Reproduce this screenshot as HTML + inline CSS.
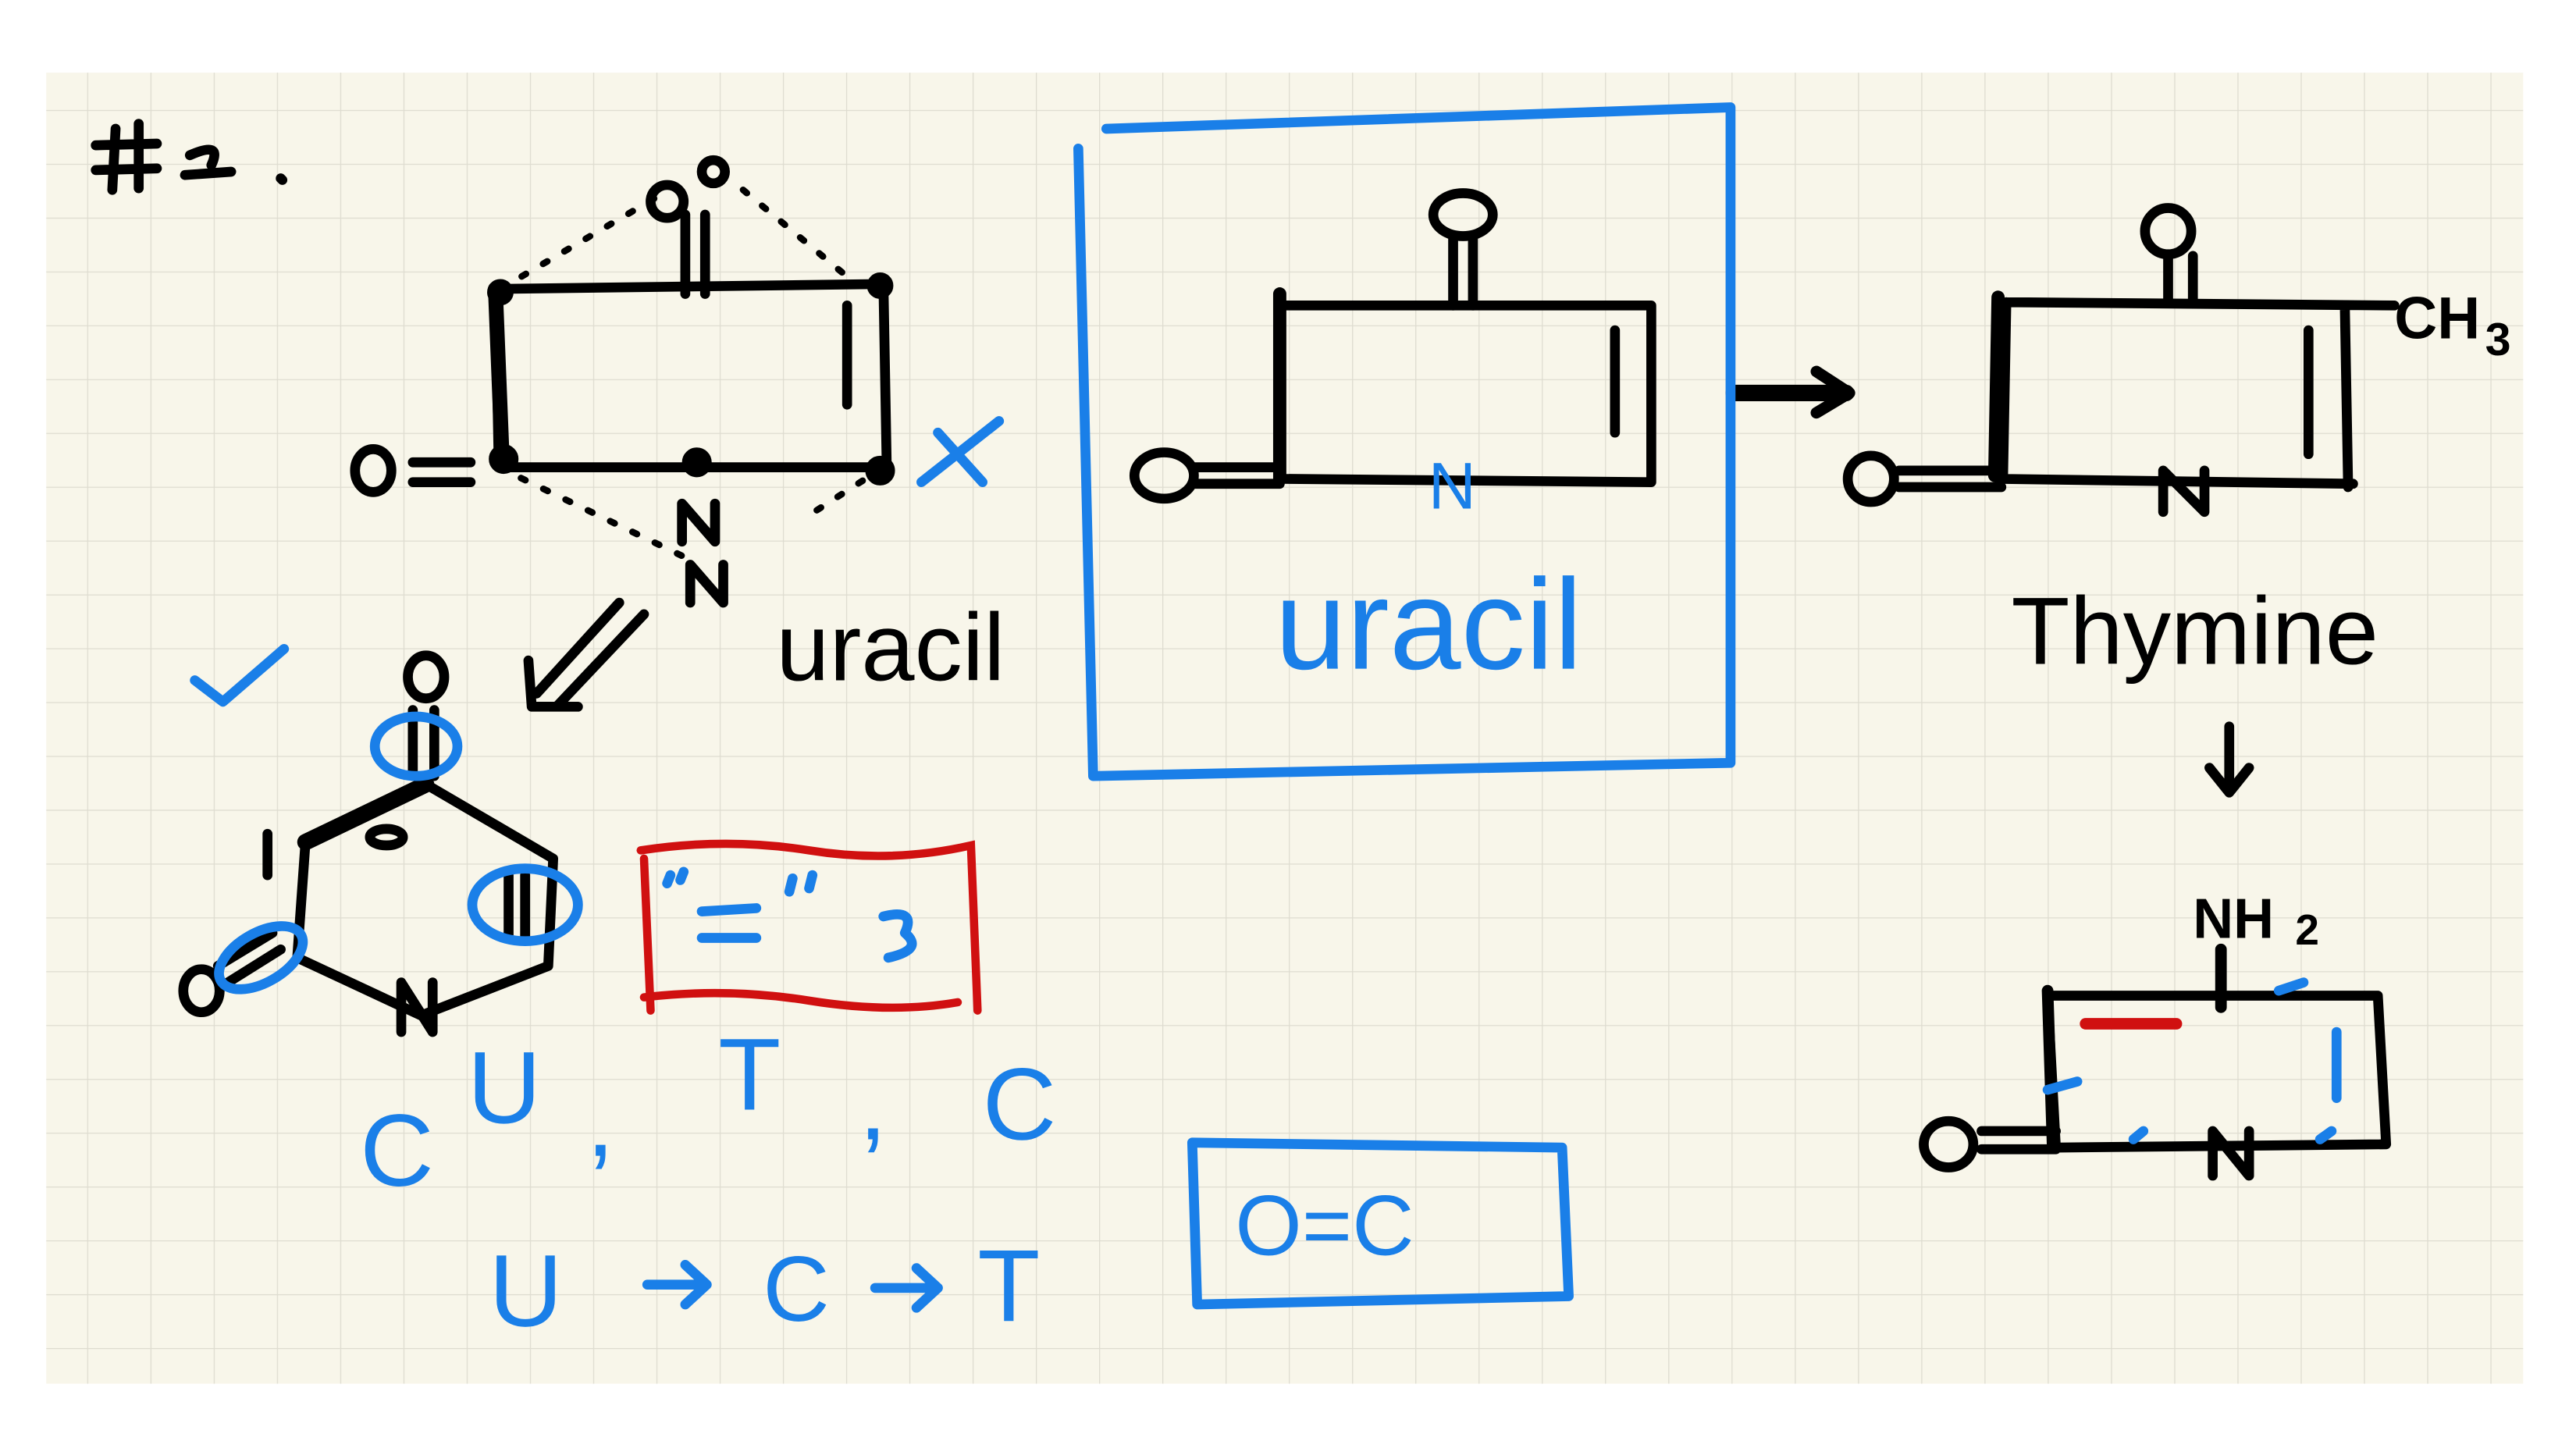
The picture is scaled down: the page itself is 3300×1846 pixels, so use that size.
<!DOCTYPE html>
<html><head><meta charset="utf-8"><style>
html,body{margin:0;padding:0;background:#fff;}
svg{display:block}
text{font-family:"Liberation Sans",sans-serif;}
</style></head><body>
<svg width="3300" height="1846" viewBox="0 0 1560 872.7" preserveAspectRatio="none" xmlns="http://www.w3.org/2000/svg">
<defs>
<pattern id="g" x="14.5" y="1.4" width="38.3" height="32.6" patternUnits="userSpaceOnUse">
<rect width="38.3" height="32.6" fill="#f8f6ea"/>
<path d="M0 0V32.6M0 0H38.3" stroke="#dedcd0" stroke-width="1.2" fill="none"/>
</pattern>
</defs>
<rect width="1560" height="873" fill="#fff"/>
<rect x="28" y="44" width="1500" height="794" fill="url(#g)"/>

<g fill="none" stroke="#000" stroke-width="6" stroke-linecap="round" stroke-linejoin="round">
<!-- #2. -->
<path d="M70 78L68 115M84 75L84 114M58 88L95 87M58 103L95 102M115 94Q135 85 128 100M112 106L140 104M170 108L171 109"/>
<!-- top-left ring -->
<path d="M300 175L535 172M300 175L302 280M302 283L535 283M535 172L537 283M513 185L513 245" />
<path d="M300 175L304 275" stroke-width="9"/>
<circle cx="404" cy="122" r="10"/><circle cx="432" cy="104" r="7"/>
<path d="M415 130L415 178M427 130L427 178"/>
<path d="M303 175L400 118M450 115L510 165M302 283L420 340M535 283L490 312" stroke-dasharray="3 12" stroke-width="4"/>
<circle cx="305" cy="278" r="6" fill="#000"/><circle cx="422" cy="280" r="6" fill="#000"/><circle cx="533" cy="285" r="6" fill="#000"/><circle cx="303" cy="177" r="5" fill="#000"/><circle cx="533" cy="173" r="5" fill="#000"/>
<ellipse cx="226" cy="285" rx="11" ry="13"/>
<path d="M250 280L285 280M250 292L285 292"/>
<path d="M413 328L413 305L433 328L433 305M418 365L418 342L438 365L438 342"/>
<!-- arrow down-left -->
<path d="M375 365L325 420M390 372L337 428M320 400L322 428L350 428"/>
<!-- hexagon -->
<ellipse cx="258" cy="410" rx="11" ry="13"/>
<path d="M250 430L250 470M263 430L263 470"/>
<path d="M258 475L335 520L332 585L255 615L180 580L185 510L258 475"/>
<path d="M185 510L258 475" stroke-width="10"/>
<ellipse cx="234" cy="507" rx="10" ry="5" stroke-width="6"/>
<path d="M162 505L162 530M308 530L308 568M318 530L318 568"/>
<path d="M243 625L243 595L262 625L262 595"/>
<ellipse cx="122" cy="600" rx="11" ry="13"/>
<path d="M132 585L165 565M138 595L170 575"/>
<!-- middle uracil -->
<ellipse cx="886" cy="130" rx="18" ry="13"/>
<path d="M880 143L880 185M892 143L892 185"/>
<path d="M775 185L1000 185L1000 292L775 290Z"/>
<path d="M775 178L775 290" stroke-width="8"/>
<path d="M978 200L978 262"/>
<ellipse cx="705" cy="288" rx="18" ry="14"/>
<path d="M722 283L775 283M722 293L775 293"/>
<path d="M1050 238L1118 238" stroke-width="10"/>
<path d="M1100 225L1120 238L1100 250" stroke-width="7"/>
<!-- thymine -->
<ellipse cx="1313" cy="140" rx="14" ry="14"/>
<path d="M1313 155L1313 183M1328 155L1328 183"/>
<path d="M1215 183L1450 185M1215 183L1213 290M1210 290L1425 293M1420 185L1422 295M1398 200L1398 275"/>
<path d="M1210 180L1208 288" stroke-width="8"/>
<ellipse cx="1133" cy="290" rx="14" ry="14"/>
<path d="M1150 285L1212 285M1150 295L1212 295"/>
<path d="M1310 310L1310 285L1335 310L1335 285" stroke-width="6"/>
<path d="M1350 440L1350 478M1338 465L1350 480L1362 465"/>
<!-- bottom right -->
<path d="M1240 603L1440 603L1445 693L1245 695Z"/>
<path d="M1240 600L1243 693" stroke-width="7"/>
<path d="M1345 575L1345 610" stroke-width="7"/>
<ellipse cx="1180" cy="693" rx="15" ry="14"/>
<path d="M1200 685L1245 685M1200 696L1245 696"/>
<path d="M1340 712L1340 685L1362 712L1362 685"/>
</g>
<g font-weight="bold" fill="#000">
<text x="1450" y="205" font-size="36">CH</text><text x="1505" y="215" font-size="28">3</text>
<text x="1328" y="568" font-size="34">NH</text><text x="1390" y="572" font-size="26">2</text>
</g>
<text x="470" y="412" font-size="58" fill="#000">uracil</text>
<text x="1218" y="402" font-size="58" fill="#000">Thymine</text>

<!-- red -->
<g fill="none" stroke="#d01010" stroke-width="5" stroke-linecap="round">
<path d="M388 515Q440 507 490 515T588 512L592 612M390 520L394 612M390 604Q440 598 490 606T580 607"/>
<path d="M1263 620L1318 620" stroke-width="7"/>
</g>

<!-- blue -->
<g fill="none" stroke="#1a7fe8" stroke-width="6" stroke-linecap="round" stroke-linejoin="round">
<path d="M653 90L662 470L1048 462L1048 65L670 78"/>
<path d="M558 292L605 255M568 262L595 292"/>
<path d="M118 412L135 425L172 393"/>
<ellipse cx="252" cy="452" rx="25" ry="18"/>
<ellipse cx="318" cy="548" rx="32" ry="22"/>
<ellipse cx="158" cy="580" rx="28" ry="15" transform="rotate(-30 158 580)"/>
<path d="M404 535L406 530M412 533L414 528M480 532L478 540M492 530L490 538M425 552L458 550M425 568L458 568"/>
<path d="M535 555Q555 550 548 565Q560 575 538 580"/>
<path d="M722 692L946 695L950 785L725 790Z"/>
<path d="M1240 660L1258 655M1292 690L1298 685M1405 690L1412 685M1415 625L1415 665M1380 600L1395 595"/>
<path d="M392 778L428 778M415 766L428 778L415 790M530 780L568 780M555 768L568 780L555 792"/>
</g>
<g fill="#1a7fe8" font-size="62">
<text x="772" y="405" font-size="78">uracil</text>
<text x="865" y="308" font-size="40">N</text>
<text x="218" y="718">C</text>
<text x="283" y="680">U</text>
<text x="355" y="700">,</text>
<text x="435" y="672">T</text>
<text x="520" y="690">,</text>
<text x="595" y="690">C</text>
<text x="296" y="803">U</text>
<text x="462" y="800" font-size="56">C</text>
<text x="592" y="800">T</text>
<text x="748" y="760" font-size="52">O=C</text>
</g>
</svg>
</body></html>
